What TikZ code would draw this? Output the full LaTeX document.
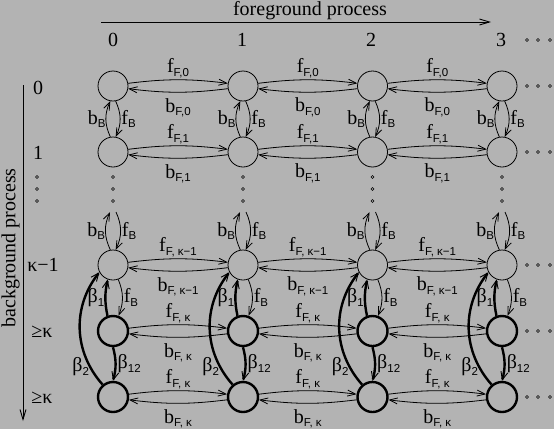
\documentclass[tikz,border=0pt]{standalone}
\usepackage{fontspec}
\setmainfont{Liberation Serif}
\setsansfont{Liberation Sans}
\usetikzlibrary{calc, arrows.meta}
\definecolor{bggray}{RGB}{179,179,179}
\newcommand{\lab}[2]{#1\raisebox{-3.5pt}{\fontsize{11.5}{12}\sffamily #2}}

\begin{document}
\begin{tikzpicture}[x=1pt,y=-1pt,
  every node/.style={font=\fontsize{20}{24}\selectfont},
  state/.style={circle, draw, line width=0.8pt, minimum size=30pt, inner sep=0pt},
  bigstate/.style={state, line width=2.4pt},
  fwd/.style={line width=0.8pt, -{Straight Barb[length=8pt,width=6pt]}},
  heavy/.style={line width=2.4pt, -{Straight Barb[length=8pt,width=7pt,line width=0.9pt]}},
  axis/.style={line width=0.9pt, -{Straight Barb[length=10pt,width=6pt]}},
  dot/.style={circle, draw, line width=0.6pt, minimum size=3pt, inner sep=0pt},
  flbl/.style={above, inner sep=1.5pt},
  blbl/.style={below, inner sep=5.5pt}]
%Background and page size
\fill[bggray] (0,0) rectangle (554,429);
\useasboundingbox (0,0) rectangle (554,429);
%Axes
\coordinate (fgStart) at (101,22);
\coordinate (fgEnd) at (491,22);
\coordinate (bgStart) at (23,85);
\coordinate (bgEnd) at (23,421);
\draw[axis] (fgStart) -- (fgEnd);
\draw[axis] (bgStart) -- (bgEnd);
\node[inner sep=0pt] (fgText) at (310,11) {foreground process};
\node[rotate=90,inner sep=0pt] (bgText) at (10.5,248) {background process};
%Column numbers
\foreach \c/\x in {0/113,1/242,2/371,3/501} {
  \node (col\c) at (\x,40) {\c};
}
%Row numbers
\node (row0) at (38,88) {0};
\node (row1) at (38,153) {1};
\node (rowk) at (43,265) {κ−1};
\node (rowg) at (42,332) {≥κ};
\node (rowh) at (42,398) {≥κ};
%States, thin rows
\foreach \r/\y in {0/86,1/152,k/265} {
  \foreach \c/\x in {0/113,1/243,2/372.5,3/502} {
    \node[state] (s\r\c) at (\x,\y) {};
  }
}
%States, thick rows
\foreach \r/\y in {g/331,h/397} {
  \foreach \c/\x in {0/113,1/243,2/372.5,3/502} {
    \node[bigstate] (s\r\c) at (\x,\y) {};
  }
}
%Horizontal transitions
\foreach \r/\s in {0/{F,0},1/{F,1},k/{F, κ−1},g/{F, κ},h/{F, κ}} {
  \foreach \c/\n in {0/1,1/2,2/3} {
    \draw[fwd] (s\r\c.10) to[bend left=7] node[flbl] {\lab{f}{\s}} (s\r\n.170);
    \draw[fwd] (s\r\n.190) to[bend left=7] node[blbl] {\lab{b}{\s}} (s\r\c.350);
  }
}
%Vertical transitions
\foreach \c/\x in {0/113,1/243,2/372.5,3/502} {
  \coordinate (dl\c) at (\x-3,212);
  \coordinate (dr\c) at (\x+3,212);
  \draw[fwd] (s1\c.100) to[bend left=25] node[left,inner sep=0pt] {\lab{b}{B}} (s0\c.260);
  \draw[fwd] (s0\c.280) to[bend left=25] node[right,inner sep=1pt] {\lab{f}{B}} (s1\c.80);
  \draw[fwd] (sk\c.100) to[bend left=25] node[left,inner sep=0pt] {\lab{b}{B}} (dl\c);
  \draw[fwd] (dr\c) to[bend left=25] node[right,inner sep=1pt] {\lab{f}{B}} (sk\c.80);
  \draw[heavy] (sg\c.110) to[bend left=12] node[left,inner sep=0pt] {\lab{β}{1}} (sk\c.250);
  \draw[fwd] (sk\c.290) to[bend left=22] node[right,inner sep=1pt] {\lab{f}{B}} (sg\c.70);
  \draw[heavy] (sg\c.270) to[bend left=15] node[right,inner sep=1pt] {\lab{β}{12}} (sh\c.90);
  \draw[heavy] (sh\c.130) to[bend left=40] node[left,pos=0.17,inner sep=0pt] {\lab{β}{2}} (sk\c.208);
}
%Dots between the rows
\foreach \c/\x in {l/37,0/113,1/243,2/372.5,3/502} {
  \foreach \y in {177,189,201} {
    \node[dot] (v\c\y) at (\x,\y) {};
  }
}
%Dots to the right
\foreach \y in {40,86,152,265,331,397} {
  \foreach \x in {527,538,550} {
    \node[dot] (h\x\y) at (\x,\y) {};
  }
}
\end{tikzpicture}
\end{document}
